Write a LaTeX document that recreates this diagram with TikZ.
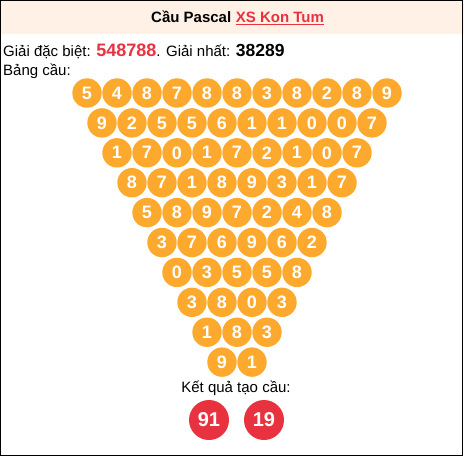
\documentclass[tikz,border=0pt]{standalone}
\usepackage{fontspec}
\setmainfont{Liberation Sans}
\definecolor{ballorange}{RGB}{252,169,46}
\definecolor{ballred}{RGB}{232,50,63}
\definecolor{headbg}{RGB}{255,241,230}
\definecolor{txtred}{RGB}{232,50,63}
\tikzset{
  ball/.style={circle, fill=ballorange, minimum size=29.4pt, inner sep=0pt, text=white,
    font=\bfseries\fontsize{18}{18}\selectfont},
  redball/.style={circle, fill=ballred, minimum size=40pt, inner sep=0pt, text=white,
    font=\bfseries\fontsize{20}{20}\selectfont},
  txt/.style={inner sep=0pt, font=\fontsize{15}{18}\selectfont},
}
\begin{document}
\begin{tikzpicture}[x=1pt,y=-1pt]
\useasboundingbox (0,0) rectangle (464,456);
\fill[white] (0,0) rectangle (464,456);
\fill[headbg] (0,0) rectangle (464,34);
\draw[black, line width=1.2pt] (0.6,0.6) rectangle (462.8,455.4);
% title
\node[txt, anchor=base west, font=\bfseries\fontsize{15}{18}\selectfont] (t1) at (151,22) {Cầu Pascal};
\node[txt, anchor=base west, text=txtred, font=\bfseries\fontsize{15}{18}\selectfont] (t2) at ([xshift=4.2pt]t1.base east) {XS Kon Tum};
\draw[txtred, line width=1pt] ([yshift=-2.2pt]t2.base west) -- ([yshift=-2.2pt]t2.base east);
% info lines
\node[txt, anchor=base west] (info) at (3,56) {Giải đặc biệt: {\bfseries\fontsize{18}{18}\selectfont\color{txtred}548788}. Giải nhất: {\bfseries\fontsize{17.5}{18}\selectfont 38289}};
\node[txt, anchor=base west] (bang) at (3,75) {Bảng cầu:};
% pascal balls
\foreach \row [count=\r from 0] in {
  {5,4,8,7,8,8,3,8,2,8,9},
  {9,2,5,5,6,1,1,0,0,7},
  {1,7,0,1,7,2,1,0,7},
  {8,7,1,8,9,3,1,7},
  {5,8,9,7,2,4,8},
  {3,7,6,9,6,2},
  {0,3,5,5,8},
  {3,8,0,3},
  {1,8,3},
  {9,1}}{
  \foreach \d [count=\i from 0] in \row {
    \node[ball] (c-\r-\i) at (87+15*\r+30*\i, 93+29.9*\r) {\d};
  }
}
\node[txt, anchor=base] (kq) at (236,392) {Kết quả tạo cầu:};
\node[redball] (r1) at (209,420) {91};
\node[redball] (r2) at (264,420) {19};
\end{tikzpicture}
\end{document}
